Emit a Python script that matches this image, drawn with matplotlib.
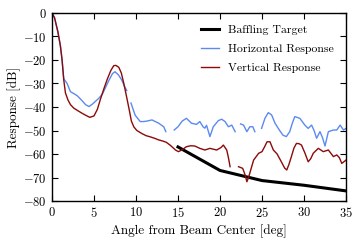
import matplotlib
matplotlib.use("Agg")
import matplotlib.pyplot as plt
import numpy as np

nan = np.nan

# baffling target
target_deg = [15, 20, 25, 30, 35]
target_db = [-57, -67, -71.3, -73.3, -75.7]

# horizontal response (nan = gap in the measurement)
horiz_deg = [0, 0.3, 0.7, 1.0, 1.2, 1.4, 1.8, 2.2, 2.6, 3.0, 3.5, 4.0, 4.4, 4.8, 5.2, 5.6,
             6.0, 6.4, 6.8, 7.2, 7.5, 7.9, 8.3, 8.6, 8.9, nan,
             9.4, 9.9, 10.5, 10.9, 11.3, 11.9, 12.3, 12.7, 13.3, 13.55, nan,
             14.55, 15.0, 15.5, 16.0, 16.6, 17.2, 17.6, 18.0, 18.2, 18.4, 18.8, 19.2,
             19.8, 20.2, 20.6, 21.0, 21.4, 21.8, nan,
             22.45, 22.8, 23.2, 23.55, 23.9, 24.15, nan,
             24.95, 25.35, 25.75, 26.15, 26.55, 27.1, 27.5, 27.9, 28.3, 28.6, 28.9, 29.5,
             30.1, 30.5, 30.9, 31.2, 31.5, 31.9, 32.2, 32.5, 32.9, 33.5, 33.9, 34.3,
             34.7, 35.0]
horiz_db = [0, -2, -8, -14, -20, -28, -30, -33.5, -34.3, -35.2, -37, -39, -39.8, -38.8,
            -37.5, -36.2, -34.5, -31.5, -28.5, -25.8, -25, -26.3, -28.5, -31, -33, nan,
            -38.3, -43.5, -46.2, -46.2, -46, -45.5, -46.2, -46.9, -48.4, -50.5, nan,
            -49.8, -48.4, -46, -44.8, -46.9, -47.4, -46.2, -48.5, -49, -47.8, -52.6, -48.4,
            -45.8, -45.2, -46.2, -48.4, -47.7, -50.5, nan,
            -47.2, -47.7, -50.5, -48.4, -48.4, -50.5, nan,
            -49.1, -44.8, -42.4, -43.4, -46.9, -50, -52, -52.6, -50.5, -47, -44.1, -44.8,
            -47.7, -49.1, -47.7, -50, -53.3, -50.5, -53, -56.6, -50.5, -49.8, -49.8, -47.7,
            -49.8, -49.1]

# vertical response (nan = gap in the measurement)
vert_deg = [0, 0.3, 0.7, 1.0, 1.2, 1.4, 1.6, 1.9, 2.2, 2.6, 3.0, 3.5, 4.0, 4.5, 5.0, 5.4,
            5.8, 6.2, 6.6, 7.0, 7.35, 7.6, 7.95, 8.25, 8.55, 8.9, 9.2, 9.45, 9.75, 10.1,
            10.7, 11.2, 11.7, 12.2, 12.7, 13.2, 13.6, 14.05, 14.4, 14.7, 15.05, 15.45,
            16.0, 16.5, 17.0, 17.6, 18.2, 18.8, 19.6, 20.1, 20.4, 20.8, 21.0, 21.2, nan,
            22.2, 22.7, 23.0, 23.2, 23.4, 23.6, 24.0, 24.6, 25.0, 25.3, 25.6, 25.95,
            26.35, 26.8, 27.3, 27.7, 27.95, 28.2, 28.5, 28.8, 29.1, 29.4, 29.7, 30.1,
            30.5, 30.8, 31.1, 31.7, 32.3, 32.9, 33.5, 33.9, 34.2, 34.5, 35.0]
vert_db = [0, -2, -8, -14, -20, -28.5, -34, -37, -39, -40.5, -41.4, -42.5, -43.5, -44.4,
           -43.8, -41, -36.3, -32, -28, -24.5, -22.4, -22.3, -23.1, -25.5, -30, -36, -41.3,
           -46, -48.5, -50, -51.3, -52.2, -52.7, -53.3, -54, -54.5, -55, -56.2, -57.3,
           -58.3, -59, -58.3, -56.9, -56.5, -56.6, -57.6, -58.3, -57.6, -58.3, -57.3,
           -56.2, -58.3, -61.5, -65.4, nan,
           -65.4, -66.1, -69, -71.8, -70, -67.5, -62.6, -59.7, -59, -57, -54.8, -54.8,
           -58.3, -60, -63.3, -66, -66.8, -64.5, -61.1, -57.5, -55.5, -55.6, -56.2, -59.5,
           -63.3, -62, -59.7, -57.6, -59, -58.3, -61.1, -60.4, -61.5, -64, -62.6]

plt.rcParams["font.family"] = "serif"
plt.rcParams["font.serif"] = ["cmr10"]
plt.rcParams["mathtext.fontset"] = "cm"
plt.rcParams["axes.formatter.use_mathtext"] = True
plt.rcParams["axes.unicode_minus"] = True

fig = plt.figure(figsize=(3.61, 2.43), dpi=100)
ax = fig.add_axes([52 / 361, 1 - 201 / 243, 294 / 361, 188 / 243])

ax.plot(target_deg, target_db, color="black", lw=2.2, label="Baffling Target")
ax.plot(horiz_deg, horiz_db, color="#5b8af0", lw=1.0, label="Horizontal Response")
ax.plot(vert_deg, vert_db, color="#8b0a0a", lw=1.0, label="Vertical Response")

ax.set_xlim(0, 35)
ax.set_ylim(-80, 0)
ax.set_xticks(range(0, 36, 5))
ax.set_yticks(range(-80, 1, 10))
ax.tick_params(direction="in", top=True, right=True, labelsize=9, length=4, width=0.8)
for s in ax.spines.values():
    s.set_linewidth(1.0)

ax.set_xlabel("Angle from Beam Center [deg]", fontsize=9.5, labelpad=3)
ax.set_ylabel("Response [dB]", fontsize=9.5, labelpad=2)
ax.legend(loc="upper right", frameon=False, fontsize=8.5, handlelength=1.5,
          borderaxespad=0.6, labelspacing=0.75)

fig.savefig("out.png", dpi=100)
